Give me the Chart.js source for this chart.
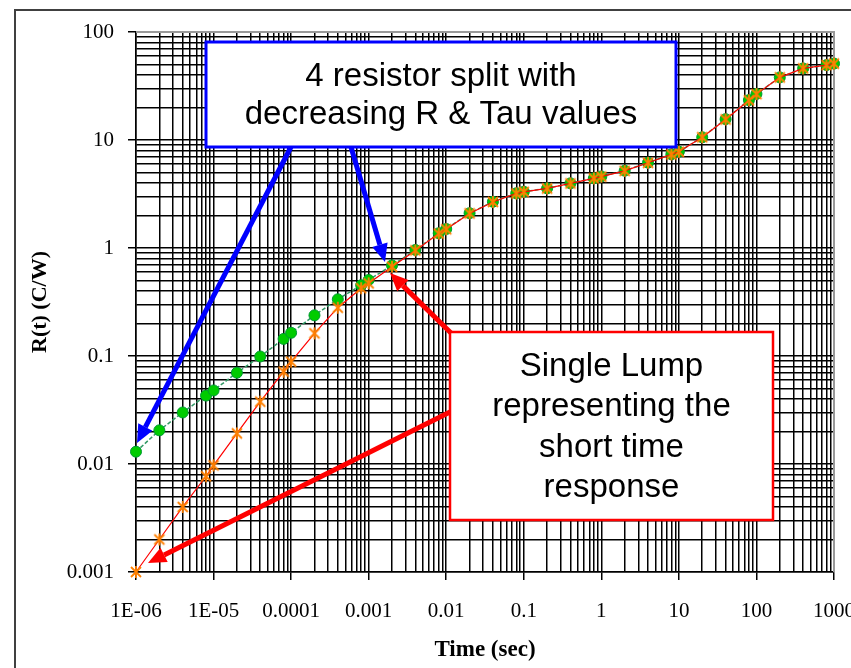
<!DOCTYPE html>
<html>
<head>
<meta charset="utf-8">
<script src="https://cdn.jsdelivr.net/npm/chart.js@4.4.1/dist/chart.umd.min.js"></script>
<style>
  html, body { margin: 0; padding: 0; background: #fff; overflow: hidden; }
  #wrap { position: relative; width: 851px; height: 668px; }
</style>
</head>
<body>
<div id="wrap"><canvas id="rtChart"></canvas></div>
<script>
// time points (sec)
const timeValues = [
  1e-6, 2e-6, 4e-6, 8e-6, 1e-5, 2e-5, 4e-5, 8e-5, 1e-4, 2e-4, 4e-4, 8e-4,
  1e-3, 2e-3, 4e-3, 8e-3, 0.01, 0.02, 0.04, 0.08, 0.1, 0.2, 0.4, 0.8,
  1, 2, 4, 8, 10, 20, 40, 80, 100, 200, 400, 800, 1000
];

// 4 resistor split, R(t) in C/W
const splitValues = [
  0.013, 0.0205, 0.030, 0.043, 0.048, 0.070, 0.099, 0.144, 0.164, 0.238, 0.335, 0.452,
  0.506, 0.69, 0.96, 1.37, 1.50, 2.10, 2.68, 3.21, 3.32, 3.57, 3.97, 4.42,
  4.6, 5.2, 6.17, 7.38, 7.8, 10.6, 15.6, 23.4, 26.7, 38, 46, 49.4, 51
];

// single lump
const lumpValues = [
  0.001, 0.002, 0.004, 0.0077, 0.0097, 0.0192, 0.0378, 0.0716, 0.0886, 0.162, 0.28, 0.424,
  0.471, 0.67, 0.95, 1.36, 1.49, 2.09, 2.67, 3.2, 3.31, 3.56, 3.96, 4.41,
  4.58, 5.18, 6.15, 7.36, 7.78, 10.6, 15.5, 23.3, 26.6, 38, 46, 49.4, 51
];

const xMajorTicks = [1e-6, 1e-5, 1e-4, 1e-3, 0.01, 0.1, 1, 10, 100, 1000];
const xTickLabels = ['1E-06', '1E-05', '0.0001', '0.001', '0.01', '0.1', '1', '10', '100', '1000'];
const yMajorTicks = [0.001, 0.01, 0.1, 1, 10, 100];
const yTickLabels = ['0.001', '0.01', '0.1', '1', '10', '100'];

const serifFont = '"Liberation Serif", "Times New Roman", serif';
const sansFont = '"Liberation Sans", Arial, sans-serif';

const majorIndex = (majors, v) => majors.findIndex(m => Math.abs(Math.log10(m) - Math.log10(v)) < 1e-6);

// ticks 1..9 in every decade
const decadeTicks = (majors) => {
  const out = [];
  for (let i = 0; i < majors.length - 1; i++) {
    for (let k = 1; k <= 9; k++) {
      out.push({ value: majors[i] * k, major: k === 1 });
    }
  }
  out.push({ value: majors[majors.length - 1], major: true });
  return out;
};

// orange asterisk marker
const starMarker = document.createElement('canvas');
starMarker.width = 14;
starMarker.height = 14;
(() => {
  const c = starMarker.getContext('2d');
  c.strokeStyle = '#ff8000';
  c.lineWidth = 1.8;
  c.beginPath();
  c.moveTo(2, 2); c.lineTo(12, 12);
  c.moveTo(12, 2); c.lineTo(2, 12);
  c.moveTo(7, 1); c.lineTo(7, 13);
  c.stroke();
})();

const drawArrow = (ctx, x1, y1, x2, y2, color, width) => {
  const headLen = 18;
  const headHalf = 8;
  const ang = Math.atan2(y2 - y1, x2 - x1);
  const bx = x2 - headLen * Math.cos(ang);
  const by = y2 - headLen * Math.sin(ang);
  ctx.strokeStyle = color;
  ctx.fillStyle = color;
  ctx.lineWidth = width;
  ctx.beginPath();
  ctx.moveTo(x1, y1);
  ctx.lineTo(bx, by);
  ctx.stroke();
  ctx.beginPath();
  ctx.moveTo(x2, y2);
  ctx.lineTo(bx + headHalf * Math.sin(ang), by - headHalf * Math.cos(ang));
  ctx.lineTo(bx - headHalf * Math.sin(ang), by + headHalf * Math.cos(ang));
  ctx.closePath();
  ctx.fill();
};

const drawBox = (ctx, x, y, w, h, color, lw, lines, lineYs) => {
  ctx.fillStyle = '#fff';
  ctx.fillRect(x, y, w, h);
  ctx.strokeStyle = color;
  ctx.lineWidth = lw;
  ctx.strokeRect(x, y, w, h);
  ctx.fillStyle = '#000';
  ctx.font = '33px ' + sansFont;
  ctx.textAlign = 'center';
  ctx.textBaseline = 'middle';
  lines.forEach((t, i) => ctx.fillText(t, x + w / 2, lineYs[i]));
};

const framePlugin = {
  id: 'frame',
  beforeDraw(chart) {
    const ctx = chart.ctx;
    ctx.save();
    ctx.fillStyle = '#fff';
    ctx.fillRect(0, 0, chart.width, chart.height);
    ctx.strokeStyle = '#404040';
    ctx.lineWidth = 2;
    ctx.beginPath();
    ctx.moveTo(15, chart.height + 5);
    ctx.lineTo(15, 10);
    ctx.lineTo(chart.width + 5, 10);
    ctx.stroke();
    ctx.restore();
  },
  beforeDatasetsDraw(chart) {
    const { ctx, chartArea: a } = chart;
    ctx.save();
    ctx.strokeStyle = '#999';
    ctx.lineWidth = 2;
    ctx.beginPath();
    ctx.moveTo(a.left, a.top);
    ctx.lineTo(a.right, a.top);
    ctx.lineTo(a.right, a.bottom);
    ctx.stroke();
    ctx.restore();
  },
  afterDraw(chart) {
    const ctx = chart.ctx;
    ctx.save();
    drawArrow(ctx, 291, 147, 137, 443, '#0000ff', 5);
    drawArrow(ctx, 351, 147, 385, 262, '#0000ff', 5);
    drawArrow(ctx, 452, 334, 390, 273, '#ff0000', 5);
    drawArrow(ctx, 450, 412, 148, 563, '#ff0000', 5);
    drawBox(ctx, 206, 42, 470, 105, '#0000ff', 3,
      ['4 resistor split with', 'decreasing R & Tau values'], [77, 115]);
    drawBox(ctx, 450, 332, 323, 188, '#ff0000', 2.5,
      ['Single Lump', 'representing the', 'short time', 'response'], [367, 407, 448, 488]);
    ctx.restore();
  }
};

const rtData = {
  datasets: [
    {
      label: 'Single Lump',
      data: timeValues.map((t, i) => ({ x: t, y: lumpValues[i] })),
      borderColor: '#ff0000',
      borderWidth: 1.2,
      pointStyle: starMarker,
      pointRadius: 6,
      clip: false,
      order: 1
    },
    {
      label: '4 resistor split',
      data: timeValues.map((t, i) => ({ x: t, y: splitValues[i] })),
      borderColor: 'rgb(51, 153, 102)',
      borderWidth: 1.5,
      borderDash: [4, 2],
      pointStyle: 'circle',
      pointRadius: 5.5,
      pointBackgroundColor: '#00cc00',
      pointBorderColor: '#009933',
      pointBorderWidth: 1,
      clip: false,
      order: 2
    }
  ]
};

const rtConfig = {
  type: 'line',
  data: rtData,
  options: {
    responsive: true,
    maintainAspectRatio: false,
    animation: false,
    layout: { padding: { left: 20, top: 32, right: 17, bottom: 0 } },
    plugins: { legend: { display: false }, tooltip: { enabled: false } },
    scales: {
      x: {
        type: 'logarithmic',
        min: 1e-6,
        max: 1000,
        afterBuildTicks: (scale) => { scale.ticks = decadeTicks(xMajorTicks); },
        afterFit: (scale) => {
          scale.height = 96;
          scale.paddingLeft = 0;
          scale.paddingRight = 0;
        },
        grid: {
          color: '#000',
          lineWidth: 1.5,
          tickLength: 8,
          tickColor: (ctx) => (ctx.tick && majorIndex(xMajorTicks, ctx.tick.value) >= 0 ? '#000' : 'rgba(0,0,0,0)')
        },
        border: { color: '#000', width: 1.5 },
        ticks: {
          autoSkip: false,
          maxRotation: 0,
          minRotation: 0,
          padding: 19,
          color: '#000',
          font: { family: serifFont, size: 21 },
          callback: (value) => {
            const i = majorIndex(xMajorTicks, value);
            return i >= 0 ? xTickLabels[i] : '';
          }
        },
        title: {
          display: true,
          text: 'Time (sec)',
          color: '#000',
          font: { family: serifFont, size: 23, weight: 'bold' },
          padding: { top: 0, bottom: 4 }
        }
      },
      y: {
        type: 'logarithmic',
        min: 0.001,
        max: 100,
        afterBuildTicks: (scale) => { scale.ticks = decadeTicks(yMajorTicks); },
        afterFit: (scale) => {
          scale.width = 116;
          scale.paddingTop = 0;
          scale.paddingBottom = 0;
        },
        grid: {
          color: '#000',
          lineWidth: 1.5,
          tickLength: 8,
          tickColor: (ctx) => (ctx.tick && majorIndex(yMajorTicks, ctx.tick.value) >= 0 ? '#000' : 'rgba(0,0,0,0)')
        },
        border: { color: '#000', width: 1.5 },
        ticks: {
          autoSkip: false,
          padding: 14,
          color: '#000',
          font: { family: serifFont, size: 21 },
          callback: (value) => {
            const i = majorIndex(yMajorTicks, value);
            return i >= 0 ? yTickLabels[i] : '';
          }
        },
        title: {
          display: true,
          text: 'R(t) (C/W)',
          color: '#000',
          font: { family: serifFont, size: 22, weight: 'bold' },
          padding: { top: 7, bottom: 0 }
        }
      }
    }
  },
  plugins: [framePlugin]
};

document.addEventListener('DOMContentLoaded', () => {
  const rtChart = new Chart(document.getElementById('rtChart'), rtConfig);
});
</script>
</body>
</html>
